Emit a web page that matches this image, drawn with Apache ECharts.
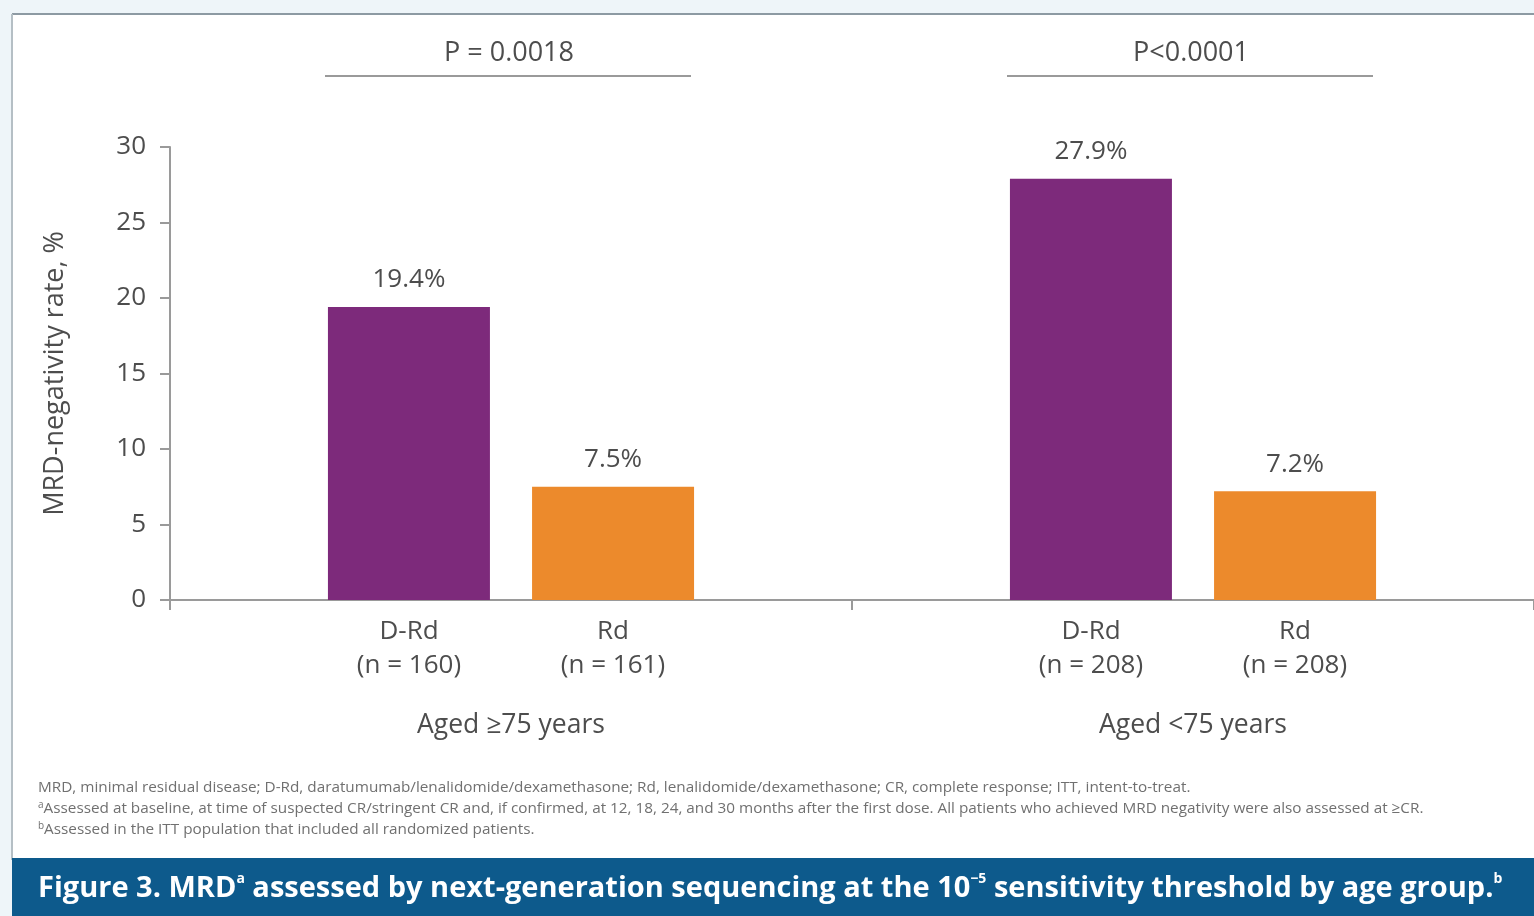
<!DOCTYPE html>
<html>
<head>
<meta charset="utf-8">
<script src="https://cdn.jsdelivr.net/npm/echarts@6/dist/echarts.min.js"></script>
<style>
html,body{margin:0;padding:0;background:#fff;}
#chart{width:1534px;height:916px;}
</style>
</head>
<body>
<div id="chart"></div>
<script>
// ---- data ----
const groups = ['Aged \u226575 years', 'Aged <75 years'];
const arms = ['D-Rd', 'Rd'];
const dRdValues = [19.4, 27.9];
const rdValues = [7.5, 7.2];
const dRdN = [160, 208];
const rdN = [161, 208];
const pValues = ['P = 0.0018', 'P<0.0001'];
const yMin = 0, yMax = 30, yInterval = 5;
const yTitle = 'MRD-negativity rate, %';
const footnotes = [
  'MRD, minimal residual disease; D-Rd, daratumumab/lenalidomide/dexamethasone; Rd, lenalidomide/dexamethasone; CR, complete response; ITT, intent-to-treat.',
  '{s|a}Assessed at baseline, at time of suspected CR/stringent CR and, if confirmed, at 12, 18, 24, and 30 months after the first dose. All patients who achieved MRD negativity were also assessed at \u2265CR.',
  '{s|b}Assessed in the ITT population that included all randomized patients.'
];
const caption = '{m|Figure 3. MRD}{s|a}{m| assessed by next-generation sequencing at the 10}{s|\u22125}{m| sensitivity threshold by age group.}{s|b}';

const PURPLE = '#7d2a7b';
const ORANGE = '#ec8a2c';
const TXT = '#4d4d4d';
const AX = '#9a9a9a';
const FONT = '"Open Sans", Lato, sans-serif';
const armN = [dRdN, rdN];

const chart = echarts.init(document.getElementById('chart'), null, {renderer: 'canvas'});

const gridLeft = 170, gridRight = 0, gridTop = 147, gridBottom = 316;

function valueSeries(name, values, color) {
  return {
    name, type: 'bar', xAxisIndex: 0, yAxisIndex: 0,
    data: values, barWidth: 162, barGap: '26%',
    itemStyle: {color},
    label: {show: true, position: 'top', distance: 14, fontFamily: FONT, fontSize: 26, color: TXT,
      formatter: p => p.value.toFixed(1) + '%'},
    emphasis: {disabled: true}, silent: true
  };
}

const graphics = [
  {type: 'rect', shape: {x: 0, y: 0, width: 1534, height: 14}, style: {fill: '#eef5f9'}, silent: true},
  {type: 'rect', shape: {x: 0, y: 0, width: 12, height: 916}, style: {fill: '#eef5f9'}, silent: true},
  {type: 'line', shape: {x1: 12, y1: 14, x2: 1534, y2: 14}, style: {stroke: '#8d9aa3', lineWidth: 2}, silent: true},
  {type: 'line', shape: {x1: 12, y1: 14, x2: 12, y2: 860}, style: {stroke: '#b5bfc5', lineWidth: 2}, silent: true},
  {type: 'rect', shape: {x: 12, y: 858, width: 1522, height: 58}, style: {fill: '#0d5a8c'}, silent: true},
  {type: 'text', x: 38, y: 889, style: {text: caption, fill: '#fff', verticalAlign: 'middle', align: 'left',
    rich: {m: {fontFamily: FONT, fontWeight: 'bold', fontSize: 29, fill: '#fff', lineHeight: 34},
           s: {fontFamily: FONT, fontWeight: 'bold', fontSize: 14, fill: '#fff', lineHeight: 34, verticalAlign: 'top', padding: [0, 0, 14, 0]}}}, silent: true}
];
footnotes.forEach((t, i) => {
  graphics.push({type: 'text', x: 38, y: 788 + i * 21, style: {text: t, fill: '#707070', verticalAlign: 'middle',
    font: '15.3px ' + FONT,
    rich: {s: {fontFamily: FONT, fontSize: 10, fill: '#707070', padding: [0, 0, 7, 0]}}}, silent: true});
});

const option = {
  backgroundColor: '#ffffff',
  animation: false,
  grid: {left: gridLeft, right: gridRight, top: gridTop, bottom: gridBottom, containLabel: false},
  xAxis: [{
    type: 'category', data: groups,
    axisLine: {lineStyle: {color: AX, width: 2}},
    axisTick: {show: true, length: 10, inside: false, lineStyle: {color: AX, width: 2}},
    axisLabel: {margin: 112, fontFamily: FONT, fontSize: 26.5, color: TXT}
  }],
  yAxis: [{
    type: 'value', min: yMin, max: yMax, interval: yInterval,
    name: yTitle, nameLocation: 'middle', nameGap: 101, nameRotate: 90,
    nameTextStyle: {fontFamily: FONT, fontSize: 27, color: TXT},
    axisLine: {show: true, lineStyle: {color: AX, width: 2}},
    axisTick: {show: true, length: 10, lineStyle: {color: AX, width: 2}},
    axisLabel: {margin: 24, fontFamily: FONT, fontSize: 26, color: TXT},
    splitLine: {show: false}
  }],
  series: [
    valueSeries(arms[0], dRdValues, PURPLE),
    valueSeries(arms[1], rdValues, ORANGE)
  ],
  graphic: graphics
};
chart.setOption(option);

// P-value brackets and arm labels positioned through the chart's scales
function addOverlays() {
  const extra = [];
  const halfSpan = 162 + 21;
  const y0 = chart.convertToPixel({yAxisIndex: 0}, 0);
  groups.forEach((g, i) => {
    const cx = chart.convertToPixel({xAxisIndex: 0}, g);
    extra.push({type: 'line', shape: {x1: cx - halfSpan - 3, y1: 76, x2: cx + halfSpan - 3, y2: 76},
      style: {stroke: AX, lineWidth: 2}, silent: true});
    extra.push({type: 'text', x: cx - 2, y: 53, style: {text: pValues[i], fill: TXT, align: 'center', verticalAlign: 'middle',
      font: '27px ' + FONT}, silent: true});
    [-1, 1].forEach((side, a) => {
      const bx = cx + side * (81 + 21);
      extra.push({type: 'text', x: bx, y: y0 + 15, style: {text: arms[a] + '\n(n = ' + armN[a][i] + ')',
        fill: TXT, align: 'center', verticalAlign: 'top', font: '26px ' + FONT, lineHeight: 34}, silent: true});
    });
  });
  chart.setOption({graphic: graphics.concat(extra)}, {replaceMerge: ['graphic']});
}
addOverlays();
</script>
</body>
</html>
